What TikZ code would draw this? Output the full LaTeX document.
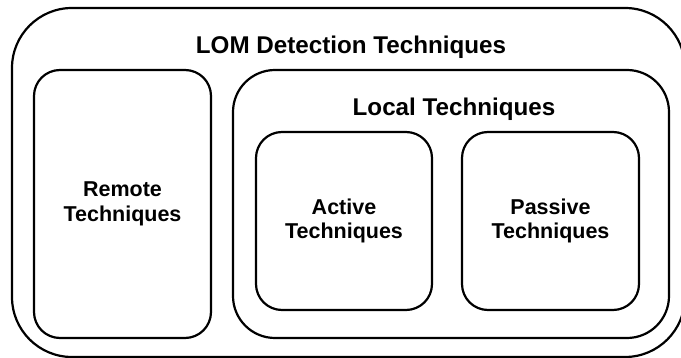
\documentclass[tikz,border=0pt]{standalone}
\usepackage{fontspec}
\setmainfont{Liberation Sans}
\usetikzlibrary{positioning}

\begin{document}
\begin{tikzpicture}[x=1pt, y=-1pt,
  groupbox/.style = {
    rectangle, draw=black, line width=2.2pt,
    inner sep=0pt, align=center},
  techbox/.style = {
    groupbox, rounded corners=26pt,
    font=\fontsize{21.5}{24.5}\selectfont\bfseries},
  titletext/.style = {
    inner sep=0pt, font=\fontsize{24.2}{27}\selectfont\bfseries}
]
\useasboundingbox (0,0) rectangle (681,358);

%── Outer box ────────────────────────────────────────────────────
\node[groupbox, rounded corners=60pt,
  minimum width=673pt, minimum height=349pt] (LOM) at (348.5,182.5) {};
\node[titletext] (LOMtitle) at (351,47) {LOM Detection Techniques};

%── Remote ───────────────────────────────────────────────────────
\node[techbox, minimum width=177pt, minimum height=268pt] (RT)
  at (122.5,204) {Remote\\Techniques};

%── Local group ──────────────────────────────────────────────────
\node[groupbox, rounded corners=42pt,
  minimum width=436pt, minimum height=268pt] (LT) at (451,204) {};
\node[titletext] (LTtitle) at (454,109) {Local Techniques};

\node[techbox, minimum width=176pt, minimum height=178pt] (AT)
  at (344,221) {Active\\Techniques};
\node[techbox, minimum width=177pt, minimum height=178pt] (PT)
  at (550.5,221) {Passive\\Techniques};

\end{tikzpicture}
\end{document}
